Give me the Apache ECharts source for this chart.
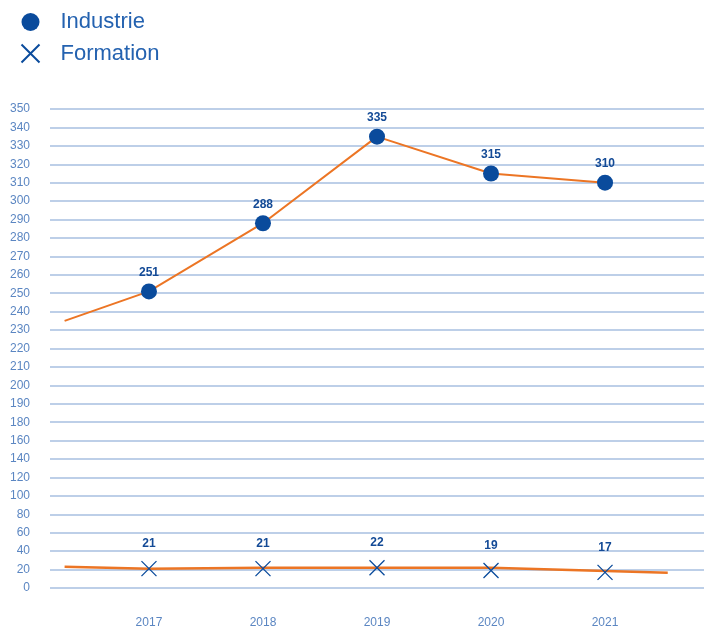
<!DOCTYPE html>
<html>
<head>
<meta charset="utf-8">
<script src="https://cdn.jsdelivr.net/npm/echarts@6/dist/echarts.min.js"></script>
<style>
html,body{margin:0;padding:0;background:#fff;}
#chart{width:704px;height:626px;}
</style>
</head>
<body>
<div id="chart"></div>
<script>
// ---- data ----
const categories = ['2017', '2018', '2019', '2020', '2021'];
const industrie = [251, 288, 335, 315, 310];
const formation = [21, 21, 22, 19, 17];
// orange connecting lines (start point before 2017, each year, end point)
const industrieTrendX = [-0.74, 0, 1, 2, 3, 4];
const industrieTrend = [235, 251, 288, 335, 315, 310];
const formationTrendX = [-0.74, 0, 1, 2, 3, 4.55];
const formationTrend = [23, 21, 22, 22, 22, 16.5];
// y tick labels (non-uniform scale: step 20 up to 180, then step 10)
const yTicks = [0, 20, 40, 60, 80, 100, 120, 140, 160, 180,
  190, 200, 210, 220, 230, 240, 250, 260, 270, 280, 290, 300,
  310, 320, 330, 340, 350];

// map a value onto the tick-index scale used by the axis
function toPos(v) {
  for (let i = 0; i < yTicks.length - 1; i++) {
    if (v <= yTicks[i + 1]) {
      return i + (v - yTicks[i]) / (yTicks[i + 1] - yTicks[i]);
    }
  }
  return yTicks.length - 1;
}

const BLUE = '#0a4b9c';
const LABEL_BLUE = '#134a96';
const AXIS_BLUE = '#5b86c2';
const ORANGE = '#ec7524';
const GRID = '#a7bfe0';
const FONT = '"Liberation Sans", Arial, Helvetica, sans-serif';
const X_PATH = 'path://M0,0L10,10M10,0L0,10';

const chart = echarts.init(document.getElementById('chart'));
chart.setOption({
  animation: false,
  textStyle: { fontFamily: FONT },
  legend: {
    orient: 'vertical',
    left: 14,
    top: 6,
    itemWidth: 18,
    itemHeight: 18,
    itemGap: 9,
    data: [
      { name: 'Industrie', icon: 'circle', itemStyle: { color: BLUE, opacity: 1 } },
      { name: 'Formation', icon: X_PATH }
    ],
    textStyle: { fontSize: 22, color: '#2462b0', fontFamily: FONT, padding: [0, 0, 0, 16] },
    selectedMode: false
  },
  grid: { left: 50, right: 0, top: 109, bottom: 38, containLabel: false, outerBoundsMode: 'none' },
  xAxis: {
    type: 'value',
    min: -0.868,
    max: 4.868,
    axisLine: { show: false },
    axisTick: { show: false },
    splitLine: { show: false },
    axisLabel: {
      customValues: categories.map((c, i) => i),
      formatter: v => categories[Math.round(v)] || '',
      color: AXIS_BLUE,
      fontSize: 12,
      margin: 29,
      fontFamily: FONT
    }
  },
  yAxis: {
    type: 'value',
    min: 0,
    max: yTicks.length - 1,
    interval: 1,
    axisLine: { show: false },
    axisTick: { show: false },
    splitLine: { lineStyle: { color: GRID, width: 1.5 } },
    axisLabel: {
      formatter: v => String(yTicks[Math.round(v)]),
      color: AXIS_BLUE,
      fontSize: 12,
      margin: 20,
      fontFamily: FONT
    }
  },
  series: [
    {
      name: 'IndustrieTrend',
      type: 'line',
      data: industrieTrend.map((v, i) => [industrieTrendX[i], toPos(v)]),
      showSymbol: false,
      symbol: 'none',
      lineStyle: { color: ORANGE, width: 2 },
      silent: true,
      z: 2
    },
    {
      name: 'FormationTrend',
      type: 'line',
      data: formationTrend.map((v, i) => [formationTrendX[i], toPos(v)]),
      showSymbol: false,
      symbol: 'none',
      lineStyle: { color: ORANGE, width: 2.5 },
      silent: true,
      z: 2
    },
    {
      name: 'Industrie',
      type: 'scatter',
      symbol: 'circle',
      symbolSize: 16,
      itemStyle: { color: BLUE, opacity: 1 },
      data: industrie.map((v, i) => [i, toPos(v)]),
      label: {
        show: true,
        position: 'top',
        distance: 5,
        formatter: p => String(industrie[p.dataIndex]),
        color: LABEL_BLUE,
        fontSize: 12,
        fontWeight: 'bold',
        fontFamily: FONT
      },
      z: 3
    },
    {
      name: 'Formation',
      type: 'scatter',
      symbol: X_PATH,
      symbolSize: 15,
      itemStyle: { color: 'none', borderColor: BLUE, borderWidth: 1.3, opacity: 1 },
      data: formation.map((v, i) => [i, toPos(v)]),
      label: {
        show: true,
        position: 'top',
        distance: 9,
        formatter: p => String(formation[p.dataIndex]),
        color: LABEL_BLUE,
        fontSize: 12,
        fontWeight: 'bold',
        fontFamily: FONT
      },
      z: 3
    }
  ]
});
</script>
</body>
</html>
